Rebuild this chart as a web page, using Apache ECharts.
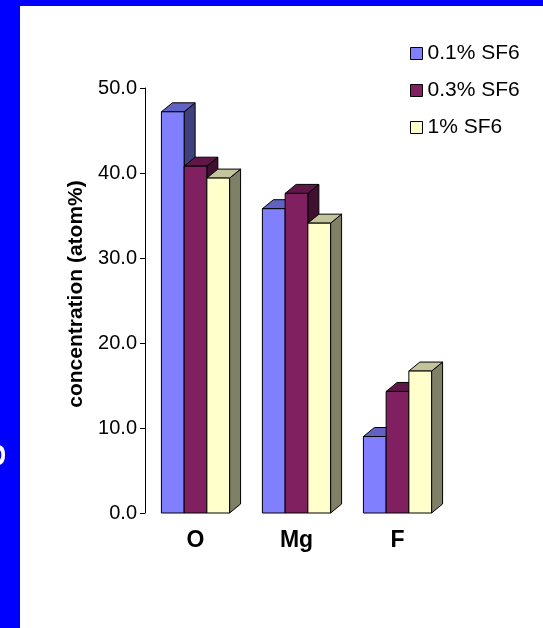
<!DOCTYPE html>
<html>
<head>
<meta charset="utf-8">
<script src="https://cdn.jsdelivr.net/npm/echarts@6/dist/echarts.min.js"></script>
<style>
  html, body { margin: 0; padding: 0; background: #fff; }
  #chart { width: 543px; height: 628px; }
</style>
</head>
<body>
<div id="chart"></div>
<script>
var categories = ['O', 'Mg', 'F'];
var seriesNames = ['0.1% SF6', '0.3% SF6', '1% SF6'];
var sf6Low = [47.2, 35.8, 9.0];
var sf6Mid = [40.8, 37.6, 14.3];
var sf6High = [39.4, 34.1, 16.7];
var yTicks = [0, 10, 20, 30, 40, 50];

// front / top / side shades for the fake 3D look
var shades = [
    { front: '#8080FF', top: '#6262C4', side: '#40407F' },
    { front: '#802060', top: '#5E1747', side: '#401030' },
    { front: '#FFFFCC', top: '#C4C49C', side: '#808066' }
];
var depthX = 11, depthY = 9;

function bar3d(idx) {
    return function (params, api) {
        var cat = api.value(0);
        var val = api.value(1);
        var base = api.coord([cat, 0]);
        var peak = api.coord([cat, val]);
        var band = api.size([1, 0])[0];
        var bw = band * 0.225;
        var x0 = base[0] - 1.5 * bw + idx * bw;
        var x1 = x0 + bw;
        var yt = peak[1];
        var yb = base[1];
        var c = shades[idx];
        var line = { stroke: '#000', lineWidth: 1 };
        return {
            type: 'group',
            children: [
                {
                    type: 'polygon',
                    shape: { points: [[x1, yt], [x1 + depthX, yt - depthY], [x1 + depthX, yb - depthY], [x1, yb]] },
                    style: Object.assign({ fill: c.side }, line)
                },
                {
                    type: 'polygon',
                    shape: { points: [[x0, yt], [x0 + depthX, yt - depthY], [x1 + depthX, yt - depthY], [x1, yt]] },
                    style: Object.assign({ fill: c.top }, line)
                },
                {
                    type: 'rect',
                    shape: { x: x0, y: yt, width: bw, height: yb - yt },
                    style: Object.assign({ fill: c.front }, line)
                }
            ]
        };
    };
}

function toData(arr) {
    return arr.map(function (v, i) { return [i, v]; });
}

var allValues = [sf6Low, sf6Mid, sf6High];

var chart = echarts.init(document.getElementById('chart'));
var option = {
    backgroundColor: '#fff',
    animation: false,
    textStyle: { fontFamily: 'Liberation Sans, Arial, sans-serif', color: '#000' },
    graphic: [
        { type: 'rect', left: 0, top: 0, shape: { width: 543, height: 6 }, style: { fill: '#0000FF' } },
        { type: 'rect', left: 0, top: 0, shape: { width: 20, height: 628 }, style: { fill: '#0000FF' } },
        {
            type: 'text', x: -4, y: 455, rotation: Math.PI / 2,
            style: { text: 'S', fill: '#fff', font: 'bold 34px Liberation Sans', align: 'center', verticalAlign: 'middle' }
        },
        {
            type: 'text', x: 76, y: 294, rotation: Math.PI / 2,
            style: {
                text: 'concentration (atom%)', fill: '#000',
                font: 'bold 21px Liberation Sans', align: 'center', verticalAlign: 'middle'
            }
        }
    ],
    legend: {
        orient: 'vertical',
        left: 410,
        top: 43,
        padding: 0,
        itemWidth: 12,
        itemHeight: 12,
        itemGap: 16,
        icon: 'rect',
        textStyle: { fontSize: 21, lineHeight: 21, color: '#000' },
        data: seriesNames.map(function (n, i) {
            return { name: n, itemStyle: { color: shades[i].front, borderColor: '#000', borderWidth: 1 } };
        })
    },
    grid: { left: 145, right: 95, top: 88, bottom: 115 },
    xAxis: {
        type: 'category',
        data: categories,
        axisLine: { show: false },
        axisTick: { show: false },
        axisLabel: { fontSize: 23, fontWeight: 'bold', color: '#000', margin: 16 }
    },
    yAxis: {
        type: 'value',
        min: yTicks[0],
        max: yTicks[yTicks.length - 1],
        interval: 10,
        axisLine: { show: true, lineStyle: { color: '#000', width: 1 } },
        axisTick: { show: true, length: 5, lineStyle: { color: '#000' } },
        axisLabel: {
            fontSize: 20, color: '#000', margin: 8,
            formatter: function (v) { return v.toFixed(1); }
        },
        splitLine: { show: false }
    },
    series: seriesNames.map(function (n, i) {
        return {
            name: n,
            type: 'custom',
            renderItem: bar3d(i),
            itemStyle: { color: shades[i].front },
            encode: { x: 0, y: 1 },
            data: toData(allValues[i])
        };
    })
};
chart.setOption(option);
</script>
</body>
</html>
